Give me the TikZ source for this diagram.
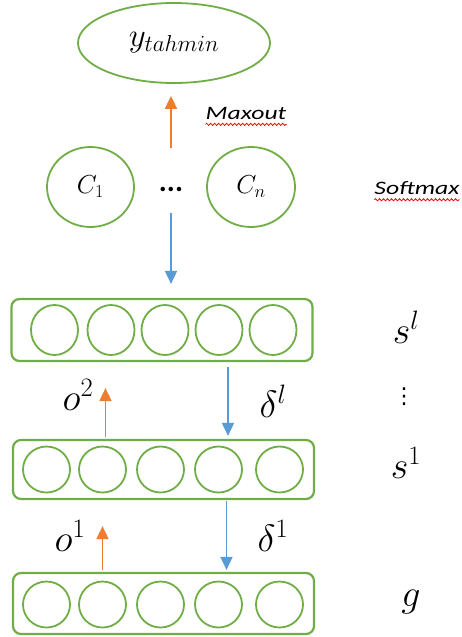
\RequirePackage{fix-cm}
\documentclass[tikz,border=0pt]{standalone}
\usepackage{fontspec}
\newfontfamily\carlito{Carlito}
\newfontfamily\dejavu{DejaVu Sans}
\usetikzlibrary{shapes.geometric, arrows.meta, decorations.pathmorphing}
\usepackage{xcolor}
\definecolor{cellgreen}{RGB}{112,173,71}
\definecolor{fwdorange}{RGB}{237,125,49}
\definecolor{bwdblue}{RGB}{91,155,213}

\begin{document}
\begin{tikzpicture}[%
    x=1pt, y=-1pt,
    >={Triangle[width=12pt,length=13pt]},
    every node/.style={%
      text=black,
      inner sep=0pt
    },
    cell/.style={ellipse, draw=cellgreen, line width=1.8pt, minimum width=47pt, minimum height=46pt},
    layer/.style={rectangle, rounded corners=8pt, draw=cellgreen, line width=2.2pt, minimum width=301pt},
    fwd/.style={->, draw=fwdorange, line width=1.8pt},
    bwd/.style={->, draw=bwdblue, line width=1.8pt},
    biglabel/.style={font=\fontsize{38}{42}\selectfont},
    wordlabel/.style={font=\carlito\itshape\fontsize{19}{22}\selectfont},
    spellmark/.style={draw=red, line width=0.8pt, decorate,
      decoration={snake, amplitude=1.1pt, segment length=4pt}}
  ]
  \useasboundingbox (0,0) rectangle (462,637);

  % Output and classes
  \node[ellipse, draw=cellgreen, line width=1.8pt, minimum width=192pt, minimum height=80pt,
    font=\fontsize{33}{36}\selectfont] (yhat) at (174,43) {$y_{tahmin}$};
  \node[ellipse, draw=cellgreen, line width=1.8pt, minimum width=87pt, minimum height=80pt,
    font=\fontsize{26}{30}\selectfont] (c1) at (90.5,187) {$C_1$};
  \node[ellipse, draw=cellgreen, line width=1.8pt, minimum width=88pt, minimum height=80pt,
    font=\fontsize{26}{30}\selectfont] (cn) at (251,187) {$C_n$};
  \node[font=\carlito\bfseries\fontsize{30}{34}\selectfont] (dots) at (171,189) {...};

  \node[wordlabel] (maxout) at (246,113) {\scalebox{1.35}[1]{Maxout}};
  \node[wordlabel] (softmax) at (417,188) {\scalebox{1.35}[1]{Softmax}};
  \draw[spellmark] ([yshift=-5pt]maxout.south west) -- ([yshift=-5pt]maxout.south east);
  \draw[spellmark] ([yshift=-5pt]softmax.south west) -- ([yshift=-5pt]softmax.south east);

  % Layers
  \node[layer, minimum height=62pt] (r1) at (162,330) {};
  \node[layer, minimum height=59pt] (r2) at (163.5,469.5) {};
  \node[layer, minimum height=61pt] (r3) at (163.5,603.5) {};

  \node[cell, minimum height=50pt] (r1c1) at (54.5,330) {};
  \node[cell, minimum height=50pt] (r1c2) at (111,330) {};
  \node[cell, minimum height=50pt] (r1c3) at (165,330) {};
  \node[cell, minimum height=50pt] (r1c4) at (219,330) {};
  \node[cell, minimum height=50pt] (r1c5) at (273,330) {};

  \node[cell] (r2c1) at (46.5,469.5) {};
  \node[cell] (r2c2) at (102.5,469.5) {};
  \node[cell] (r2c3) at (160.5,469.5) {};
  \node[cell] (r2c4) at (218.5,469.5) {};
  \node[cell] (r2c5) at (279.5,469.5) {};

  \node[cell] (r3c1) at (46.5,604.5) {};
  \node[cell] (r3c2) at (102.5,604.5) {};
  \node[cell] (r3c3) at (160.5,604.5) {};
  \node[cell] (r3c4) at (218.5,604.5) {};
  \node[cell] (r3c5) at (279.5,604.5) {};

  % Side labels
  \node[biglabel] (sl) at (406,327.5) {$s^{l}$};
  \node[font=\dejavu\fontsize{22}{26}\selectfont] (vd) at (404,397) {⋮};
  \node[biglabel] (s1) at (406,463) {$s^{1}$};
  \node[biglabel] (g) at (411,602) {$g$};

  % Arrows
  \draw[fwd, shorten <=41pt, shorten >=12pt] (dots.center) -- (dots.center |- yhat.south);
  \draw[bwd, shorten <=24pt, shorten >=14pt] (dots.center) -- (dots.center |- r1.north);

  \draw[fwd, shorten <=2pt, shorten >=26pt] ([xshift=3pt]r2c2 |- r2.north) -- ([xshift=3pt]r2c2 |- r1.south);
  \draw[bwd, shorten <=5pt, shorten >=3pt] ([xshift=9pt]r1c4 |- r1.south) -- ([xshift=9pt]r1c4 |- r2.north);
  \draw[fwd, shorten <=2pt, shorten >=26pt] (r3c2 |- r3.north) -- (r3c2 |- r2.south);
  \draw[bwd, shorten <=1pt, shorten >=2pt] ([xshift=8pt]r2c4 |- r2.south) -- ([xshift=8pt]r2c4 |- r3.north);

  \node[biglabel] (o2) at (78,395) {$o^{2}$};
  \node[biglabel] (dl) at (273,401) {$\delta^{l}$};
  \node[biglabel] (o1) at (70,536) {$o^{1}$};
  \node[biglabel] (d1) at (273,536) {$\delta^{1}$};

\end{tikzpicture}
\end{document}
